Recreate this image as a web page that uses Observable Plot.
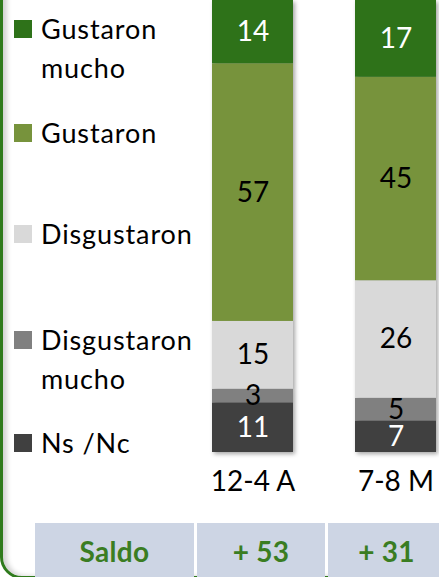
<!DOCTYPE html>
<html><head><meta charset="utf-8">
<script src="https://cdn.jsdelivr.net/npm/d3@7"></script>
<script src="https://cdn.jsdelivr.net/npm/@observablehq/plot@0.6"></script>
<style>
html,body{margin:0;padding:0;background:#fff;overflow:hidden}
#wrap{position:relative;width:439px;height:577px;overflow:hidden;font-family:Lato,"Open Sans",sans-serif;background:#fff}
#frame{position:absolute;left:0;top:-40px;width:700px;height:619px;border:3px solid #2f7a1c;border-radius:22px;box-sizing:border-box;box-shadow:inset 4px 0 5px rgba(0,0,0,0.18)}
#chart{position:absolute;left:0;top:0}
#chart g[aria-label="bar"]{filter:drop-shadow(2px 2px 2px rgba(0,0,0,0.35))}
.item{position:absolute;left:41px;font-size:27px;letter-spacing:0.9px;line-height:39px;color:#000;white-space:nowrap}
.sw{position:absolute;left:-27px;width:18px;height:18px}
.cell{position:absolute;top:523px;height:60px;background:#cdd5e4;color:#3a7d22;font-weight:bold;font-size:28px;letter-spacing:0.3px;line-height:57px;text-align:center}
</style></head><body><div id="wrap"><div id="frame"></div></div>
<script>
const periods = ["12-4 A", "7-8 M"];
const categories = ["Gustaron mucho", "Gustaron", "Disgustaron", "Disgustaron mucho", "Ns /Nc"];
const legendLines = [["Gustaron", "mucho"], ["Gustaron"], ["Disgustaron"], ["Disgustaron", "mucho"], ["Ns /Nc"]];
const colors = ["#2e7219", "#77933c", "#d9d9d9", "#808080", "#404040"];
const labelColors = ["#ffffff", "#000000", "#000000", "#000000", "#ffffff"];
const values_12_4A = [14, 57, 15, 3, 11];
const values_7_8M = [17, 45, 26, 5, 7];
const saldoHeader = "Saldo";
const saldo = ["+ 53", "+ 31"];

// build rows bottom-up so the stack starts with Ns/Nc
const seriesByPeriod = [values_12_4A, values_7_8M];
const rows = [];
periods.forEach((p, pi) => {
  for (let ci = categories.length - 1; ci >= 0; ci--) {
    rows.push({period: p, category: categories[ci], value: seriesByPeriod[pi][ci], labelColor: labelColors[ci]});
  }
});

const stackOpts = {x: "period", y: "value", z: "category"};
const chart = Plot.plot({
  width: 439,
  height: 577,
  marginTop: 0,
  marginBottom: 125,
  marginLeft: 0,
  marginRight: 0,
  x: {domain: periods, range: [149.4, 499], padding: 0.436, label: null, tickSize: 0, tickPadding: 19, fontSize: 28},
  y: {domain: [0, 100], axis: null},
  color: {domain: categories, range: colors},
  style: {fontFamily: "Lato, 'Open Sans', sans-serif", fontSize: "28px", background: "transparent", color: "#000", overflow: "visible"},
  marks: [
    Plot.barY(rows, Plot.stackY({...stackOpts, fill: "category"})),
    Plot.text(rows, Plot.stackY({...stackOpts, text: "value", fill: {value: "labelColor", scale: null}, fontSize: 28}))
  ]
});
chart.id = "chart";
const wrap = document.getElementById("wrap");
wrap.appendChild(chart);

// legend (HTML, left of the bars)
const legendTops = [9, 113, 214, 320, 423];
categories.forEach((c, i) => {
  const it = document.createElement("div");
  it.className = "item";
  it.style.top = legendTops[i] + "px";
  it.innerHTML = legendLines[i].join("<br>");
  const sw = document.createElement("div");
  sw.className = "sw";
  sw.style.background = colors[i];
  sw.style.top = "11px";
  it.appendChild(sw);
  wrap.appendChild(it);
});

// Saldo table row
const cellX = [[35, 194], [197, 325], [328, 445]];
[saldoHeader, ...saldo].forEach((t, i) => {
  const c = document.createElement("div");
  c.className = "cell";
  c.style.left = cellX[i][0] + "px";
  c.style.width = (cellX[i][1] - cellX[i][0]) + "px";
  c.textContent = t;
  wrap.appendChild(c);
});
</script></body></html>
